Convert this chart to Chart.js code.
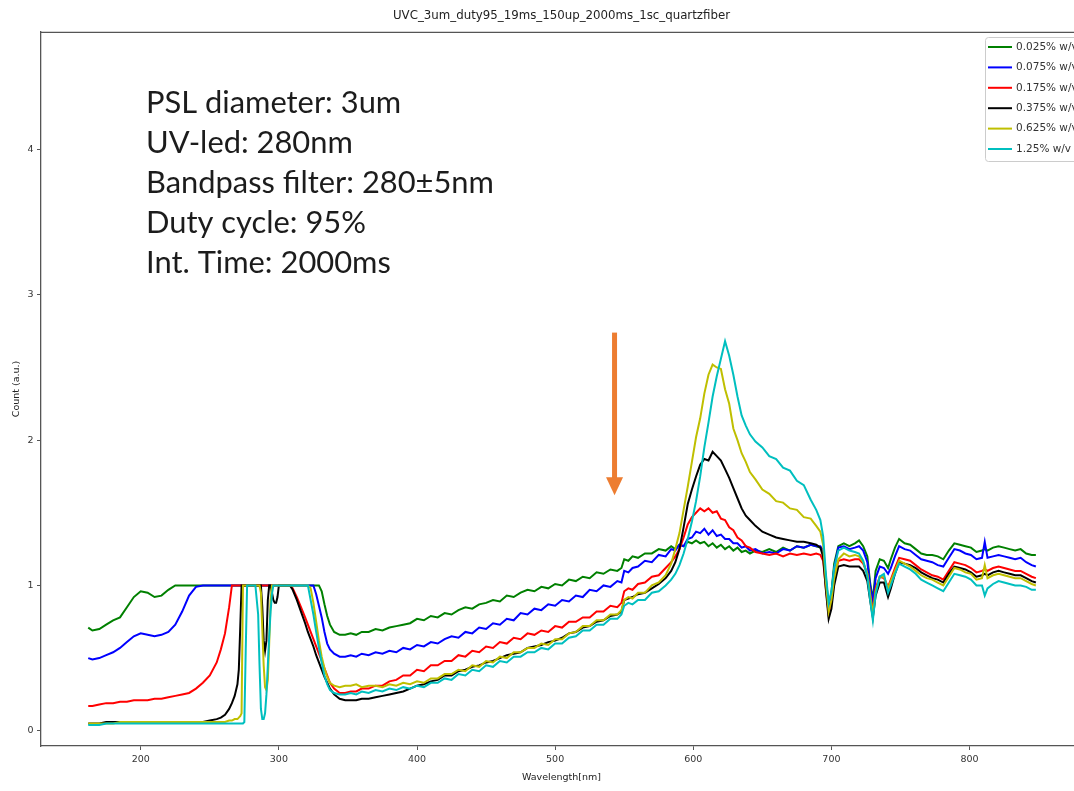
<!DOCTYPE html>
<html><head><meta charset="utf-8">
<script src="https://cdn.jsdelivr.net/npm/chart.js@4.4.1/dist/chart.umd.min.js"></script>
<style>html,body{margin:0;padding:0;overflow:hidden;background:#fff;}canvas{display:block;}</style>
</head><body>
<canvas id="c" width="1082" height="791" style="width:1082px;height:791px"></canvas>
<script>
// ---- data ----
const wavelength = [
162,165,170,175,180,185,190,195,200,205,
210,215,220,225,230,235,240,245,250,255,
258,261,264,266,268,270,271,272,273,274,
275,276,277,278,280,283,285,286,287,288,
289,290,291,292,293,294,295,296,297,298,
299,300,302,305,308,310,313,316,319,321,
323,325,327,329,331,333,335,337,340,344,
348,352,356,360,365,370,375,380,385,390,
395,400,405,410,415,420,425,430,435,440,
445,450,455,460,465,470,475,480,485,490,
495,500,505,510,515,520,525,530,535,540,
545,548,550,553,556,560,565,570,575,580,
584,587,590,593,596,599,602,605,608,611,
614,617,620,623,626,629,632,635,638,641,
645,650,655,660,665,670,675,680,685,689,
692,694,696,698,700,702,705,709,713,717,
720,723,726,728,730,732,735,738,741,743,
746,749,753,757,761,765,769,773,777,781,
785,789,793,797,801,805,809,811,813,817,
821,825,829,833,837,841,845,848];

const conc0025 = [
0.71,0.69,0.70,0.73,0.76,0.78,0.85,0.92,0.96,0.95,
0.92,0.93,0.97,1,1,1,1,1,1,1,
1,1,1,1,1,1,1,1,1,1,
1,1,1,1,1,1,1,1,1,1,
1,1,1,1,1,1,1,1,1,1,
1,1,1,1,1,1,1,1,1,1,
1,1,1,1,0.96,0.87,0.79,0.73,0.68,0.66,
0.66,0.67,0.66,0.68,0.68,0.70,0.69,0.71,0.72,0.73,
0.74,0.77,0.76,0.79,0.78,0.81,0.80,0.83,0.85,0.84,
0.87,0.88,0.90,0.89,0.93,0.92,0.95,0.97,0.96,0.99,
0.98,1.01,1.00,1.04,1.03,1.06,1.05,1.09,1.08,1.11,
1.10,1.12,1.18,1.17,1.20,1.19,1.22,1.22,1.25,1.24,
1.27,1.25,1.28,1.27,1.30,1.29,1.31,1.29,1.30,1.27,
1.29,1.26,1.28,1.25,1.27,1.24,1.26,1.23,1.24,1.22,
1.24,1.23,1.25,1.23,1.26,1.24,1.27,1.26,1.28,1.27,
1.26,1.24,1.05,0.86,0.95,1.15,1.27,1.29,1.27,1.29,
1.31,1.27,1.20,1.02,0.90,1.10,1.18,1.17,1.12,1.18,
1.26,1.32,1.29,1.28,1.25,1.22,1.21,1.21,1.20,1.18,
1.24,1.29,1.28,1.27,1.26,1.23,1.24,1.25,1.24,1.26,
1.27,1.26,1.25,1.24,1.25,1.22,1.21,1.21];

const conc0075 = [
0.50,0.49,0.50,0.52,0.54,0.57,0.61,0.65,0.67,0.66,
0.65,0.66,0.68,0.73,0.82,0.93,0.99,1,1,1,
1,1,1,1,1,1,1,1,1,1,
1,1,1,1,1,1,1,1,1,1,
1,1,1,1,1,1,1,1,1,1,
1,1,1,1,1,1,1,1,1,1,
1,1,0.94,0.86,0.78,0.68,0.60,0.56,0.53,0.51,
0.51,0.52,0.51,0.53,0.52,0.54,0.53,0.55,0.54,0.57,
0.56,0.59,0.58,0.61,0.60,0.63,0.65,0.64,0.68,0.67,
0.71,0.70,0.74,0.73,0.77,0.76,0.81,0.80,0.84,0.83,
0.87,0.86,0.90,0.89,0.93,0.92,0.97,0.96,1.00,0.99,
1.03,1.02,1.10,1.09,1.12,1.13,1.17,1.16,1.21,1.20,
1.25,1.24,1.28,1.27,1.32,1.33,1.37,1.36,1.39,1.35,
1.38,1.34,1.35,1.32,1.32,1.29,1.29,1.26,1.27,1.24,
1.25,1.22,1.23,1.22,1.25,1.24,1.27,1.26,1.28,1.27,
1.27,1.24,1.02,0.84,0.93,1.12,1.26,1.27,1.25,1.26,
1.27,1.24,1.16,1.00,0.88,1.05,1.13,1.12,1.08,1.12,
1.20,1.27,1.25,1.24,1.21,1.18,1.17,1.16,1.14,1.13,
1.19,1.25,1.24,1.22,1.21,1.18,1.19,1.30,1.19,1.20,
1.21,1.20,1.19,1.18,1.19,1.16,1.14,1.13];

const conc0175 = [
0.17,0.17,0.18,0.19,0.19,0.20,0.20,0.21,0.21,0.21,
0.22,0.22,0.23,0.24,0.25,0.26,0.29,0.33,0.38,0.47,
0.56,0.67,0.85,1,1,1,1,1,1,1,
1,1,1,1,1,1,1,1,1,1,
1,1,1,1,1,1,1,1,1,1,
1,1,1,1,1,0.98,0.92,0.85,0.78,0.73,
0.68,0.63,0.58,0.53,0.48,0.43,0.38,0.33,0.29,0.26,
0.26,0.27,0.27,0.29,0.29,0.31,0.31,0.34,0.35,0.38,
0.38,0.42,0.41,0.45,0.45,0.48,0.48,0.52,0.51,0.55,
0.54,0.58,0.57,0.61,0.60,0.64,0.63,0.67,0.66,0.69,
0.68,0.72,0.71,0.75,0.75,0.78,0.78,0.82,0.82,0.86,
0.85,0.88,0.96,0.98,0.97,1.01,1.02,1.06,1.07,1.12,
1.16,1.20,1.25,1.33,1.42,1.47,1.50,1.53,1.51,1.53,
1.50,1.51,1.46,1.45,1.40,1.38,1.33,1.31,1.27,1.26,
1.23,1.22,1.21,1.22,1.20,1.22,1.21,1.22,1.21,1.22,
1.21,1.17,0.98,0.80,0.88,1.05,1.17,1.18,1.17,1.18,
1.18,1.15,1.08,0.94,0.82,0.98,1.06,1.05,0.99,1.04,
1.12,1.19,1.18,1.17,1.14,1.11,1.09,1.07,1.06,1.04,
1.10,1.16,1.15,1.14,1.12,1.09,1.10,1.11,1.10,1.12,
1.13,1.12,1.11,1.10,1.10,1.08,1.06,1.05];

const conc0375 = [
0.05,0.05,0.05,0.06,0.06,0.06,0.06,0.06,0.06,0.06,
0.06,0.06,0.06,0.06,0.06,0.06,0.06,0.06,0.07,0.08,
0.09,0.11,0.15,0.19,0.24,0.32,0.42,0.70,1,1,
1,1,1,1,1,1,1,1,1,0.85,
0.62,0.55,0.62,0.90,1,1,0.95,0.90,0.88,0.88,
0.92,1,1,1,1,0.97,0.90,0.82,0.74,0.68,
0.63,0.58,0.52,0.47,0.42,0.37,0.33,0.29,0.25,0.22,
0.21,0.21,0.21,0.22,0.22,0.23,0.24,0.25,0.26,0.27,
0.29,0.31,0.32,0.34,0.35,0.38,0.38,0.41,0.42,0.44,
0.45,0.47,0.48,0.50,0.52,0.53,0.54,0.57,0.58,0.59,
0.61,0.62,0.64,0.67,0.68,0.71,0.72,0.75,0.76,0.79,
0.80,0.82,0.90,0.91,0.92,0.94,0.95,0.98,1.01,1.05,
1.10,1.16,1.25,1.40,1.56,1.66,1.75,1.83,1.87,1.86,
1.92,1.89,1.86,1.80,1.74,1.67,1.60,1.53,1.48,1.45,
1.41,1.37,1.35,1.33,1.32,1.31,1.30,1.30,1.29,1.28,
1.26,1.20,0.97,0.77,0.84,1.00,1.13,1.14,1.13,1.13,
1.13,1.10,1.03,0.90,0.78,0.93,1.02,1.02,0.92,0.98,
1.08,1.16,1.15,1.14,1.12,1.09,1.07,1.05,1.04,1.02,
1.08,1.13,1.12,1.11,1.09,1.06,1.07,1.08,1.07,1.09,
1.10,1.09,1.08,1.07,1.07,1.05,1.03,1.02];

const conc0625 = [
0.05,0.05,0.05,0.05,0.05,0.06,0.06,0.06,0.06,0.06,
0.06,0.06,0.06,0.06,0.06,0.06,0.06,0.06,0.06,0.06,
0.06,0.06,0.07,0.07,0.08,0.08,0.09,0.10,0.12,1,
1,1,1,1,1,1,1,1,0.95,0.70,
0.45,0.30,0.28,0.35,0.60,0.90,1,1,1,1,
1,1,1,1,1,1,1,1,1,1,
0.98,0.88,0.75,0.62,0.51,0.43,0.37,0.33,0.31,0.30,
0.31,0.31,0.32,0.30,0.31,0.31,0.30,0.32,0.31,0.33,
0.32,0.34,0.33,0.36,0.36,0.39,0.39,0.42,0.41,0.45,
0.44,0.48,0.47,0.51,0.50,0.54,0.54,0.57,0.57,0.60,
0.59,0.63,0.63,0.67,0.68,0.72,0.72,0.76,0.76,0.80,
0.80,0.83,0.90,0.92,0.91,0.95,0.95,1.00,1.02,1.07,
1.15,1.25,1.36,1.52,1.68,1.85,2.02,2.15,2.32,2.45,
2.52,2.50,2.49,2.35,2.25,2.08,2.00,1.91,1.85,1.78,
1.73,1.66,1.63,1.58,1.57,1.53,1.52,1.47,1.46,1.41,
1.37,1.28,1.02,0.82,0.90,1.05,1.18,1.22,1.20,1.21,
1.20,1.16,1.08,0.94,0.80,0.96,1.06,1.06,0.98,1.03,
1.10,1.17,1.15,1.13,1.10,1.07,1.05,1.04,1.02,1.00,
1.06,1.12,1.11,1.09,1.08,1.04,1.05,1.14,1.05,1.07,
1.08,1.07,1.06,1.05,1.05,1.03,1.01,1.00];

const conc125 = [
0.04,0.04,0.04,0.05,0.05,0.05,0.05,0.05,0.05,0.05,
0.05,0.05,0.05,0.05,0.05,0.05,0.05,0.05,0.05,0.05,
0.05,0.05,0.05,0.05,0.05,0.05,0.05,0.05,0.05,0.05,
0.06,0.55,1,1,1,1,0.80,0.45,0.15,0.08,
0.08,0.12,0.25,0.45,0.65,0.82,0.94,1,1,1,
1,1,1,1,1,1,1,1,1,1,
0.90,0.80,0.68,0.57,0.47,0.38,0.32,0.28,0.26,0.25,
0.25,0.26,0.25,0.27,0.26,0.28,0.27,0.29,0.28,0.30,
0.29,0.31,0.30,0.33,0.33,0.36,0.35,0.39,0.38,0.42,
0.41,0.45,0.44,0.48,0.47,0.51,0.51,0.54,0.54,0.57,
0.56,0.60,0.60,0.64,0.65,0.69,0.69,0.73,0.73,0.77,
0.77,0.80,0.86,0.88,0.87,0.90,0.90,0.95,0.96,1.00,
1.04,1.08,1.14,1.22,1.32,1.44,1.58,1.75,1.95,2.12,
2.30,2.44,2.56,2.68,2.58,2.45,2.30,2.17,2.10,2.04,
1.99,1.95,1.89,1.87,1.81,1.79,1.72,1.69,1.59,1.52,
1.45,1.34,1.08,0.88,0.96,1.12,1.24,1.26,1.24,1.23,
1.22,1.17,1.06,0.90,0.76,0.94,1.06,1.08,0.95,1.00,
1.08,1.15,1.13,1.11,1.08,1.04,1.02,1.00,0.98,0.96,
1.02,1.08,1.07,1.06,1.04,1.00,1.00,0.93,0.98,1.01,
1.03,1.02,1.01,1.00,1.00,0.99,0.97,0.97];

const seriesLabels = ['0.025% w/v','0.075% w/v','0.175% w/v','0.375% w/v','0.625% w/v','1.25% w/v'];
const seriesValues = [conc0025, conc0075, conc0175, conc0375, conc0625, conc125];
const seriesColors = ['#008000','#0000ff','#ff0000','#000000','#bfbf00','#00bfbf'];
const xTicks = [200,300,400,500,600,700,800];
const yTicks = [0,1,2,3,4];
const titleText = 'UVC_3um_duty95_19ms_150up_2000ms_1sc_quartzfiber';
const xLabel = 'Wavelength[nm]';
const yLabel = 'Count (a.u.)';
const noteLines = ['PSL diameter: 3um','UV-led: 280nm','Bandpass filter: 280\u00b15nm','Duty cycle: 95%','Int. Time: 2000ms'];
const arrowMark = {x: 543, yFrom: 2.74, yTo: 1.62};

// ---- drawing ----
const FONT = "'DejaVu Sans', sans-serif";

const framePlugin = {
  id: 'frame',
  afterDraw(chart) {
    const {ctx, chartArea: a} = chart;
    ctx.save();
    ctx.strokeStyle = '#555'; ctx.lineWidth = 1.3;
    ctx.beginPath();
    ctx.moveTo(a.left, a.top + 0.5); ctx.lineTo(a.right, a.top + 0.5);
    ctx.moveTo(a.right - 0.5, a.top); ctx.lineTo(a.right - 0.5, a.bottom);
    ctx.stroke();
    ctx.restore();
  }
};

const notePlugin = {
  id: 'notes',
  afterDraw(chart) {
    const ctx = chart.ctx;
    const xs = chart.scales.x, ys = chart.scales.y;
    ctx.save();
    const ax = xs.getPixelForValue(arrowMark.x);
    const y1 = ys.getPixelForValue(arrowMark.yFrom);
    const y2 = ys.getPixelForValue(arrowMark.yTo);
    ctx.fillStyle = '#ED7D31';
    ctx.fillRect(ax - 2.5, y1, 5, (y2 - y1) - 17);
    ctx.beginPath();
    ctx.moveTo(ax - 8.5, y2 - 18); ctx.lineTo(ax + 8.5, y2 - 18); ctx.lineTo(ax, y2);
    ctx.closePath(); ctx.fill();
    ctx.font = "30px Lato, 'Open Sans', sans-serif";
    const w = ctx.measureText(noteLines[2]).width;
    const size = 30 * 348 / w;
    ctx.font = size.toFixed(2) + "px Lato, 'Open Sans', sans-serif";
    ctx.fillStyle = '#1c1c1c';
    ctx.textAlign = 'left'; ctx.textBaseline = 'alphabetic';
    noteLines.forEach((t, i) => {
      ctx.fillText(t, 146, 101.5 + i * 40 + size * 0.36);
    });
    ctx.restore();
  }
};

const legendPlugin = {
  id: 'boxLegend',
  afterDraw(chart) {
    const ctx = chart.ctx;
    ctx.save();
    const x0 = 985.5, y0 = 37.5, w = 100, h = 124, r = 3;
    ctx.beginPath();
    ctx.moveTo(x0 + r, y0); ctx.lineTo(x0 + w - r, y0); ctx.quadraticCurveTo(x0 + w, y0, x0 + w, y0 + r);
    ctx.lineTo(x0 + w, y0 + h - r); ctx.quadraticCurveTo(x0 + w, y0 + h, x0 + w - r, y0 + h);
    ctx.lineTo(x0 + r, y0 + h); ctx.quadraticCurveTo(x0, y0 + h, x0, y0 + h - r);
    ctx.lineTo(x0, y0 + r); ctx.quadraticCurveTo(x0, y0, x0 + r, y0); ctx.closePath();
    ctx.fillStyle = 'rgba(255,255,255,0.85)'; ctx.fill();
    ctx.strokeStyle = '#cccccc'; ctx.lineWidth = 1; ctx.stroke();
    ctx.font = "10.5px " + FONT;
    ctx.textBaseline = 'middle'; ctx.textAlign = 'left';
    seriesLabels.forEach((lab, i) => {
      const y = 47 + i * 20.4;
      ctx.strokeStyle = seriesColors[i]; ctx.lineWidth = 2;
      ctx.beginPath(); ctx.moveTo(988, y); ctx.lineTo(1012, y); ctx.stroke();
      ctx.fillStyle = '#333';
      ctx.fillText(lab, 1016, y);
    });
    ctx.restore();
  }
};

const datasets = seriesValues.map((vals, i) => ({
  label: seriesLabels[i],
  data: wavelength.map((x, j) => ({x: x, y: vals[j]})),
  borderColor: seriesColors[i],
  backgroundColor: seriesColors[i],
  borderWidth: 2,
  pointRadius: 0,
  tension: 0,
  fill: false,
  order: seriesValues.length - i
}));

new Chart(document.getElementById('c'), {
  type: 'line',
  data: {datasets},
  options: {
    responsive: false,
    animation: false,
    layout: {padding: 0},
    plugins: {
      legend: {display: false},
      tooltip: {enabled: false},
      title: {display: true, text: titleText, fullSize: false, color: '#222',
        font: {family: FONT, size: 11.8, weight: 'normal', lineHeight: 1.2},
        padding: {top: 9, bottom: 8.8}}
    },
    scales: {
      x: {
        type: 'linear', min: 127.8, max: 881.4,
        afterFit(s) { s.height = 45; },
        afterBuildTicks(s) { s.ticks = xTicks.map(v => ({value: v})); },
        ticks: {font: {family: FONT, size: 9.5}, color: '#333', padding: 4, maxRotation: 0, autoSkip: false},
        grid: {display: true, drawOnChartArea: false, drawTicks: true, tickLength: 4, color: '#555'},
        border: {display: true, color: '#555', width: 1.3},
        title: {display: true, text: xLabel, color: '#222', font: {family: FONT, size: 9.5}, padding: {top: 0, bottom: 7.5}}
      },
      y: {
        type: 'linear', min: -0.105, max: 4.809,
        afterFit(s) { s.width = 41; },
        afterBuildTicks(s) { s.ticks = yTicks.map(v => ({value: v})); },
        ticks: {font: {family: FONT, size: 9.5}, color: '#333', padding: 3.5},
        grid: {display: true, drawOnChartArea: false, drawTicks: true, tickLength: 4, color: '#555'},
        border: {display: true, color: '#555', width: 1.3},
        title: {display: true, text: yLabel, color: '#222', font: {family: FONT, size: 9.5}, padding: {top: 11.3, bottom: 0}}
      }
    }
  },
  plugins: [framePlugin, notePlugin, legendPlugin]
});
</script>
</body></html>
